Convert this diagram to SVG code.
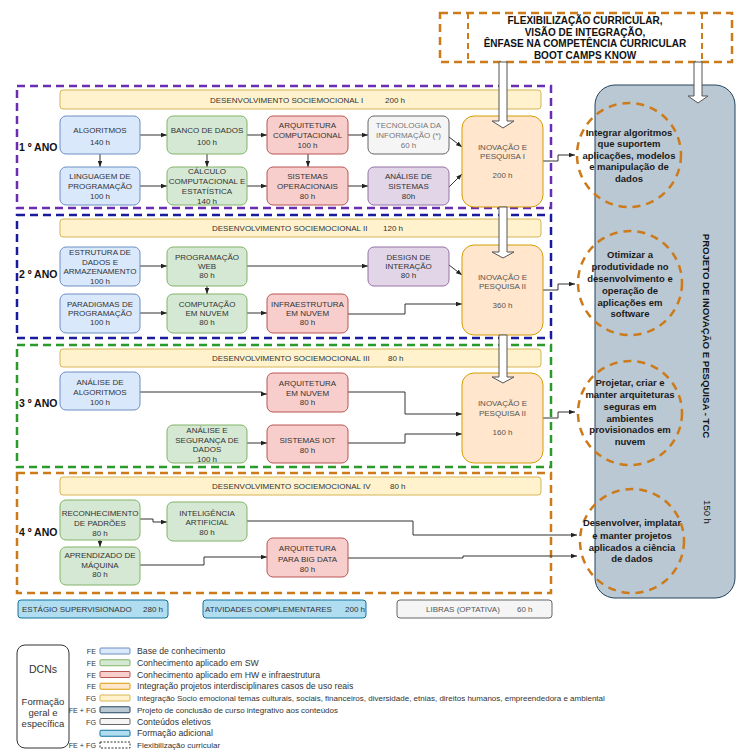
<svg xmlns="http://www.w3.org/2000/svg" width="752" height="755" viewBox="0 0 752 755">
<defs>
<marker id="ah" viewBox="0 0 8 6" refX="8" refY="3" markerWidth="6" markerHeight="5" markerUnits="userSpaceOnUse" orient="auto"><path d="M0,0 L8,3 L0,6 z" fill="#222"/></marker>
</defs>
<style>
text{font-family:"Liberation Sans",Arial,sans-serif}
.t{font-size:8px;fill:#333;text-anchor:middle}
.tl{font-size:8px;fill:#333}
.yr{font-size:10.5px;font-weight:bold;fill:#111}
.ct{font-size:9.5px;font-weight:bold;fill:#1a1a1a;text-anchor:middle}
.hd{font-size:10px;font-weight:bold;fill:#111;text-anchor:middle}
.blue{fill:#dae8fc;stroke:#6c8ebf}
.green{fill:#d5e8d4;stroke:#82b366}
.red{fill:#f8cecc;stroke:#b85450}
.gray{fill:#f5f5f5;stroke:#666}
.purple{fill:#e1d5e7;stroke:#9673a6}
.orange{fill:#ffe6cc;stroke:#d79b00}
.band{fill:#fff2cc;stroke:#d6b656}
.add{fill:#b1ddf0;stroke:#10739e}
.tcc{fill:#bac8d3;stroke:#23445d}
.yb{fill:none;stroke-width:2.5;stroke-dasharray:8 5}
.circ{fill:none;stroke:#cc7a1a;stroke-width:2.5;stroke-dasharray:8 6}
.edge path{fill:none;stroke:#333;stroke-width:1;marker-end:url(#ah)}
.hollow{fill:#fff;stroke:#555;stroke-width:1}
.lg{font-size:8.7px;fill:#333}
.lgl{font-size:7.2px;fill:#333;text-anchor:end}
.dcn{font-size:9.5px;fill:#333;text-anchor:middle}
</style>
<rect width="752" height="755" fill="#fff"/>

<!-- TCC big box -->
<g id="tcc">
<rect class="tcc" x="595" y="85" width="140" height="513" rx="20"/>
<text transform="rotate(90 706 336)" x="706" y="336" text-anchor="middle" dominant-baseline="central" style="font-size:9.6px;font-weight:bold;fill:#111">PROJETO DE INOVAÇÃO  E PESQUISA - TCC</text>
<text transform="rotate(90 707 512)" x="707" y="512" text-anchor="middle" dominant-baseline="central" style="font-size:9.5px;fill:#111">150 h</text>
</g>

<!-- top flexibilization box -->
<g id="flex">
<rect x="440" y="13" width="292" height="49" fill="none" stroke="#cc7a1a" stroke-width="2.5" stroke-dasharray="8 5"/>
<line x1="468" y1="13" x2="468" y2="62" stroke="#cc7a1a" stroke-width="2" stroke-dasharray="6 4"/>
<line x1="702" y1="13" x2="702" y2="62" stroke="#cc7a1a" stroke-width="2" stroke-dasharray="6 4"/>
<text class="hd" x="585" y="24">FLEXIBILIZAÇÃO CURRICULAR,</text>
<text class="hd" x="585" y="35.5">VISÃO DE INTEGRAÇÃO,</text>
<text class="hd" x="585" y="47">ÊNFASE NA COMPETÊNCIA CURRICULAR</text>
<text class="hd" x="585" y="58.5">BOOT CAMPS KNOW</text>
</g>

<!-- year boxes -->
<g id="year1">
<rect class="yb" x="17" y="86" width="534" height="122" stroke="#6a2cb0"/>
<text class="yr" x="19" y="151">1 º ANO</text>
</g>
<g id="year2">
<rect class="yb" x="17" y="215" width="534" height="123" stroke="#1a1a9c"/>
<text class="yr" x="19" y="278">2 º ANO</text>
</g>
<g id="year3">
<rect class="yb" x="17" y="345" width="534" height="122" stroke="#2a9a2a"/>
<text class="yr" x="19" y="407">3 º ANO</text>
</g>
<g id="year4">
<rect class="yb" x="17" y="473" width="534" height="120" stroke="#cc7a1a"/>
<text class="yr" x="19" y="536">4 º ANO</text>
</g>

<!-- bands -->
<g id="band1"><rect class="band" x="60" y="90" width="481" height="19" rx="3"/><text class="tl" x="210" y="102.5">DESENVOLVIMENTO SOCIEMOCIONAL  I</text><text class="tl" x="385" y="102.5">200 h</text></g>
<g id="band2"><rect class="band" x="60" y="219" width="481" height="18" rx="3"/><text class="tl" x="212" y="231">DESENVOLVIMENTO SOCIEMOCIONAL  II</text><text class="tl" x="383" y="231">120 h</text></g>
<g id="band3"><rect class="band" x="60" y="349" width="481" height="18" rx="3"/><text class="tl" x="212" y="361">DESENVOLVIMENTO SOCIEMOCIONAL  III</text><text class="tl" x="388" y="361">80 h</text></g>
<g id="band4"><rect class="band" x="60" y="477" width="481" height="18" rx="3"/><text class="tl" x="212" y="489">DESENVOLVIMENTO SOCIEMOCIONAL  IV</text><text class="tl" x="390" y="489">80 h</text></g>

<!-- connectors -->
<g id="connectors" class="edge">
<path d="M140,135 H167"/>
<path d="M247,135 H267"/>
<path d="M348,135 H368"/>
<path d="M100,154 V167"/>
<path d="M207,154 V167"/>
<path d="M308,154 V167"/>
<path d="M140,186 H167"/>
<path d="M247,186 H267"/>
<path d="M348,186 H368"/>
<path d="M449,137 L462,147"/>
<path d="M449,187 L462,174"/>
<path d="M543,161 H558 V155 H575"/>
<path d="M140,266 H167"/>
<path d="M247,266 H368"/>
<path d="M207,286 V294"/>
<path d="M140,313 H167"/>
<path d="M247,313 H267"/>
<path d="M348,314 H405 V304 H462"/>
<path d="M449,265 L462,275"/>
<path d="M543,290 H558 V284 H575"/>
<path d="M140,392 H262 V394 H267"/>
<path d="M348,392 H405 V414 H462"/>
<path d="M247,443 H267"/>
<path d="M348,443 H405 V434 H462"/>
<path d="M543,418 H558 V412 H575"/>
<path d="M140,519 H153 V522 H167"/>
<path d="M100,540 V547"/>
<path d="M140,565 H204 V557 H267"/>
<path d="M247,521 H413 V535 H577"/>
<path d="M348,558 H463 V556 H577"/>
</g>

<!-- Year 1 nodes -->
<g id="n_alg"><rect class="blue" x="60" y="116" width="80" height="38" rx="6"/><text class="t" x="100" y="133">ALGORITMOS</text><text class="t" x="100" y="145">140 h</text></g>
<g id="n_bd"><rect class="green" x="167" y="116" width="80" height="38" rx="6"/><text class="t" x="207" y="133">BANCO DE DADOS</text><text class="t" x="207" y="145">100 h</text></g>
<g id="n_arqc"><rect class="red" x="267" y="116" width="81" height="38" rx="6"/><text class="t" x="307.5" y="128">ARQUITETURA</text><text class="t" x="307.5" y="138">COMPUTACIONAL</text><text class="t" x="307.5" y="148">100 h</text></g>
<g id="n_ti"><rect class="gray" x="368" y="116" width="81" height="38" rx="6"/><text class="t" x="408.5" y="128" style="fill:#777">TECNOLOGIA DA</text><text class="t" x="408.5" y="138" style="fill:#777">INFORMAÇÃO (*)</text><text class="t" x="408.5" y="148" style="fill:#777">60 h</text></g>
<g id="n_lp"><rect class="blue" x="60" y="167" width="80" height="38" rx="6"/><text class="t" x="100" y="179">LINGUAGEM DE</text><text class="t" x="100" y="189">PROGRAMAÇÃO</text><text class="t" x="100" y="199">100 h</text></g>
<g id="n_calc"><rect class="green" x="167" y="167" width="80" height="38" rx="6"/><text class="t" x="207" y="174">CÁLCULO</text><text class="t" x="207" y="184">COMPUTACIONAL E</text><text class="t" x="207" y="194">ESTATÍSTICA</text><text class="t" x="207" y="204">140 h</text></g>
<g id="n_so"><rect class="red" x="267" y="167" width="81" height="38" rx="6"/><text class="t" x="307.5" y="179">SISTEMAS</text><text class="t" x="307.5" y="189">OPERACIONAIS</text><text class="t" x="307.5" y="199">80 h</text></g>
<g id="n_as"><rect class="purple" x="368" y="167" width="81" height="38" rx="6"/><text class="t" x="408.5" y="179">ANÁLISE DE</text><text class="t" x="408.5" y="189">SISTEMAS</text><text class="t" x="408.5" y="199">80h</text></g>
<g id="n_ip1"><rect class="orange" x="462" y="116" width="81" height="91" rx="12"/><text class="t" x="502.5" y="150" style="fill:#555">INOVAÇÃO E</text><text class="t" x="502.5" y="159" style="fill:#555">PESQUISA I</text><text class="t" x="502.5" y="178" style="fill:#555">200 h</text></g>

<!-- Year 2 nodes -->
<g id="n_est"><rect class="blue" x="60" y="247" width="80" height="39" rx="6"/><text class="t" x="100" y="255">ESTRUTURA DE</text><text class="t" x="100" y="264.5">DADOS E</text><text class="t" x="100" y="274">ARMAZENAMENTO</text><text class="t" x="100" y="283.5">100 h</text></g>
<g id="n_pw"><rect class="green" x="167" y="247" width="80" height="39" rx="6"/><text class="t" x="207" y="260">PROGRAMAÇÃO</text><text class="t" x="207" y="269">WEB</text><text class="t" x="207" y="278">80 h</text></g>
<g id="n_di"><rect class="purple" x="368" y="247" width="81" height="39" rx="6"/><text class="t" x="408.5" y="260">DESIGN DE</text><text class="t" x="408.5" y="269">INTERAÇÃO</text><text class="t" x="408.5" y="278">80 h</text></g>
<g id="n_par"><rect class="blue" x="60" y="294" width="80" height="39" rx="6"/><text class="t" x="100" y="307">PARADIGMAS DE</text><text class="t" x="100" y="316">PROGRAMAÇÃO</text><text class="t" x="100" y="325">100 h</text></g>
<g id="n_cn"><rect class="green" x="167" y="294" width="80" height="39" rx="6"/><text class="t" x="207" y="307">COMPUTAÇÃO</text><text class="t" x="207" y="316">EM  NUVEM</text><text class="t" x="207" y="325">80 h</text></g>
<g id="n_in"><rect class="red" x="267" y="294" width="81" height="39" rx="6"/><text class="t" x="307.5" y="307">INFRAESTRUTURA</text><text class="t" x="307.5" y="316">EM  NUVEM</text><text class="t" x="307.5" y="325">80 h</text></g>
<g id="n_ip2"><rect class="orange" x="462" y="245" width="81" height="90" rx="12"/><text class="t" x="502.5" y="280" style="fill:#555">INOVAÇÃO E</text><text class="t" x="502.5" y="289" style="fill:#555">PESQUISA II</text><text class="t" x="502.5" y="308" style="fill:#555">360 h</text></g>

<!-- Year 3 nodes -->
<g id="n_aa"><rect class="blue" x="60" y="372" width="80" height="38" rx="6"/><text class="t" x="100" y="385">ANÁLISE DE</text><text class="t" x="100" y="395">ALGORITMOS</text><text class="t" x="100" y="405">100 h</text></g>
<g id="n_an"><rect class="red" x="267" y="373" width="81" height="39" rx="6"/><text class="t" x="307.5" y="386">ARQUITETURA</text><text class="t" x="307.5" y="395.5">EM  NUVEM</text><text class="t" x="307.5" y="405">80 h</text></g>
<g id="n_asd"><rect class="green" x="167" y="425" width="80" height="38" rx="6"/><text class="t" x="207" y="433">ANÁLISE E</text><text class="t" x="207" y="442.5">SEGURANÇA DE</text><text class="t" x="207" y="452">DADOS</text><text class="t" x="207" y="461.5">100 h</text></g>
<g id="n_iot"><rect class="red" x="267" y="425" width="81" height="38" rx="6"/><text class="t" x="307.5" y="443">SISTEMAS IOT</text><text class="t" x="307.5" y="453">80 h</text></g>
<g id="n_ip3"><rect class="orange" x="462" y="373" width="81" height="90" rx="12"/><text class="t" x="502.5" y="406" style="fill:#555">INOVAÇÃO E</text><text class="t" x="502.5" y="416" style="fill:#555">PESQUISA II</text><text class="t" x="502.5" y="435" style="fill:#555">160 h</text></g>

<!-- Year 4 nodes -->
<g id="n_rp"><rect class="green" x="60" y="500" width="80" height="40" rx="6"/><text class="t" x="100" y="516">RECONHECIMENTO</text><text class="t" x="100" y="526">DE PADRÕES</text><text class="t" x="100" y="536">80 h</text></g>
<g id="n_ia"><rect class="green" x="167" y="502" width="80" height="39" rx="6"/><text class="t" x="207" y="516">INTELIGÊNCIA</text><text class="t" x="207" y="525">ARTIFICIAL</text><text class="t" x="207" y="535">80 h</text></g>
<g id="n_am"><rect class="green" x="60" y="547" width="80" height="38" rx="6"/><text class="t" x="100" y="558">APRENDIZADO DE</text><text class="t" x="100" y="568">MÁQUINA</text><text class="t" x="100" y="577">80 h</text></g>
<g id="n_bg"><rect class="red" x="267" y="538" width="81" height="39" rx="6"/><text class="t" x="307.5" y="551">ARQUITETURA</text><text class="t" x="307.5" y="562">PARA BIG DATA</text><text class="t" x="307.5" y="572">80 h</text></g>

<!-- hollow arrows -->
<g id="hollow-arrows">
<path class="hollow" d="M499,62 V121 H492 L503,128 L514,121 H507 V62 Z"/>
<path class="hollow" d="M499,207 V252 H492 L503,258 L514,252 H507 V207 Z"/>
<path class="hollow" d="M499,335 V377 H492 L503,383 L514,377 H507 V335 Z"/>
<path class="hollow" d="M694,62 V96 H688 L698,103 L708,96 H702 V62 Z"/>
</g>

<!-- competency circles -->
<g id="c1"><circle class="circ" cx="629" cy="155" r="52"/>
<text class="ct" x="629" y="136">Integrar algoritmos</text><text class="ct" x="629" y="147">que suportem</text><text class="ct" x="629" y="158.5">aplicações, modelos</text><text class="ct" x="629" y="170">e manipulação de</text><text class="ct" x="629" y="182">dados</text></g>
<g id="c2"><circle class="circ" cx="630" cy="283" r="52"/>
<text class="ct" x="630" y="258">Otimizar a</text><text class="ct" x="630" y="270">produtividade no</text><text class="ct" x="630" y="282">desenvolvimento e</text><text class="ct" x="630" y="294">operação de</text><text class="ct" x="630" y="305.5">aplicações  em</text><text class="ct" x="630" y="316.5">software</text></g>
<g id="c3"><circle class="circ" cx="630" cy="413" r="52"/>
<text class="ct" x="630" y="386">Projetar, criar e</text><text class="ct" x="630" y="398">manter arquiteturas</text><text class="ct" x="630" y="410">seguras em</text><text class="ct" x="630" y="421.5">ambientes</text><text class="ct" x="630" y="433">provisionados em</text><text class="ct" x="630" y="445">nuvem</text></g>
<g id="c4"><circle class="circ" cx="632" cy="541" r="52"/>
<text class="ct" x="632" y="526">Desenvolver, implatar</text><text class="ct" x="632" y="539">e manter projetos</text><text class="ct" x="632" y="551">aplicados a ciência</text><text class="ct" x="632" y="562">de dados</text></g>

<!-- bottom bar -->
<g id="estagio"><rect class="add" x="18" y="600" width="150" height="18" rx="3"/><text class="tl" x="22" y="612">ESTÁGIO SUPERVISIONADO</text><text class="tl" x="143" y="612">280 h</text></g>
<g id="ativ"><rect class="add" x="203" y="600" width="163" height="18" rx="3"/><text class="tl" x="205" y="612">ATIVIDADES COMPLEMENTARES</text><text class="tl" x="345" y="612">200 h</text></g>
<g id="libras"><rect class="gray" x="397" y="600" width="155" height="18" rx="3"/><text class="tl" x="426" y="612" style="fill:#555">LIBRAS (OPTATIVA)</text><text class="tl" x="517" y="612" style="fill:#555">60 h</text></g>

<!-- legend -->
<g id="legend">
<rect x="17" y="645" width="52" height="103" rx="8" fill="none" stroke="#333"/>
<text class="dcn" x="43" y="673" style="font-size:10.5px">DCNs</text>
<text class="dcn" x="43" y="705">Formação</text>
<text class="dcn" x="43" y="716">geral e</text>
<text class="dcn" x="43" y="727">específica</text>

<text class="lgl" x="96" y="654">FE</text><rect class="blue" x="100" y="648" width="30" height="6" rx="1"/><text class="lg" x="137" y="654">Base de conhecimento</text>
<text class="lgl" x="96" y="665.75">FE</text><rect class="green" x="100" y="659.75" width="30" height="6" rx="1"/><text class="lg" x="137" y="665.75">Conhecimento aplicado em SW</text>
<text class="lgl" x="96" y="677.5">FE</text><rect class="red" x="100" y="671.5" width="30" height="6" rx="1"/><text class="lg" x="137" y="677.5">Conhecimento aplicado em  HW e infraestrutura</text>
<text class="lgl" x="96" y="689.25">FE</text><rect class="orange" x="100" y="683.25" width="30" height="6" rx="1"/><text class="lg" x="137" y="689.25">Integração projetos interdisciplinares casos de uso reais</text>
<text class="lgl" x="96" y="701">FG</text><rect class="band" x="100" y="695" width="30" height="6" rx="1"/><text class="lg" x="137" y="701" style="font-size:8px">Integração Socio emocional temas culturais, sociais, financeiros, diversidade, etnias, direitos humanos, empreendedora e ambiental</text>
<text class="lgl" x="96" y="712.75">FE + FG</text><rect class="tcc" x="100" y="706.75" width="30" height="6" rx="1"/><text class="lg" x="137" y="712.75" style="font-size:8px">Projeto de conclusão de curso integrativo aos conteúdos</text>
<text class="lgl" x="96" y="724.5">FG</text><rect class="gray" x="100" y="718.5" width="30" height="6" rx="1"/><text class="lg" x="137" y="724.5">Conteúdos eletivos</text>
<rect class="add" x="100" y="730.25" width="30" height="6" rx="1"/><text class="lg" x="137" y="736.25">Formação adicional</text>
<text class="lgl" x="96" y="748">FE + FG</text><rect x="100" y="742" width="30" height="6" fill="none" stroke="#333" stroke-dasharray="2 1.5"/><text class="lg" x="137" y="748" style="font-size:8px">Flexibilização curricular</text>
</g>
</svg>
